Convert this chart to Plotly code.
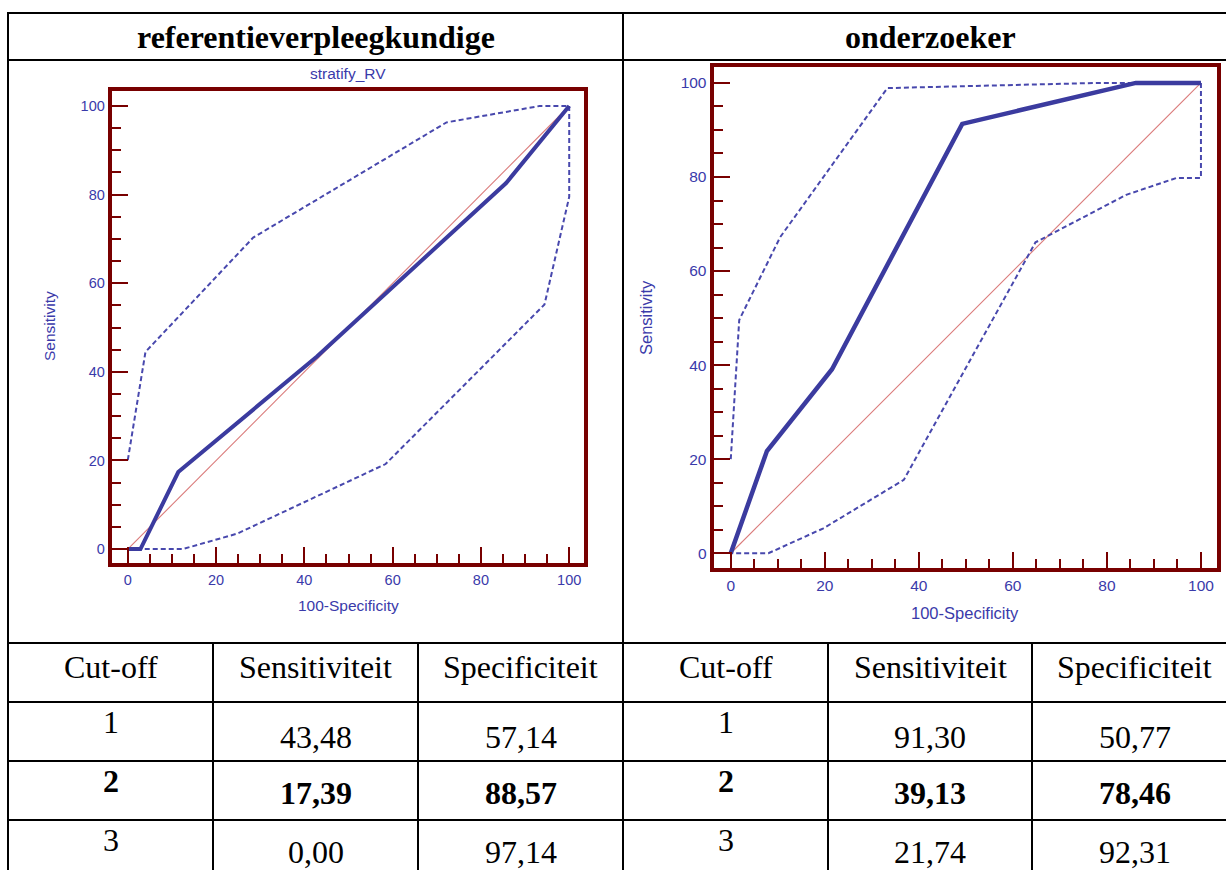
import plotly.graph_objects as go

W, H = 1226, 870

# ---- data -------------------------------------------------------------
cutoffs = ["1", "2", "3"]
rv_sens = [43.48, 17.39, 0.00]
rv_spec = [57.14, 88.57, 97.14]
oz_sens = [91.30, 39.13, 21.74]
oz_spec = [50.77, 78.46, 92.31]

# ROC points beyond the tabulated cut-offs (100-specificity, sensitivity)
rv_extra_fpr = [85.71]
rv_extra_sens = [82.61]
oz_extra_fpr = [86.15]
oz_extra_sens = [100.0]

# 95% confidence bands around the ROC curves
rv_upper_x = [0, 4.0, 28.4, 72.2, 93.3, 100]
rv_upper_y = [20.1, 44.5, 70.3, 96.3, 100, 100]
rv_lower_x = [100, 100, 94.4, 58.4, 24.8, 12.4, 0]
rv_lower_y = [100, 79.5, 55.2, 19.2, 3.5, 0, 0]
oz_upper_x = [0, 1.8, 10.5, 33.3, 78, 100]
oz_upper_y = [20, 49.6, 67.2, 98.9, 100, 100]
oz_lower_x = [100, 100, 94.8, 84.1, 64.8, 36.8, 19.7, 8.0, 0]
oz_lower_y = [100, 79.8, 79.8, 76.2, 66.1, 15.6, 5.3, 0, 0]

panel_titles = ["referentieverpleegkundige", "onderzoeker"]
col_headers = ["Cut-off", "Sensitiviteit", "Specificiteit"]
bold_row = 1

# ---- styling -----------------------------------------------------------
FRAME = "#780000"
BLUE_TXT = "#3a3aaa"
ROC_COL = "#3b3b9f"
BAND_COL = "#4848ad"
DIAG_COL = "#da7a7a"
SANS = "Liberation Sans, Arial, sans-serif"
SERIF = "Liberation Serif, Times New Roman, serif"


def px(x):
    return x / W


def py(y):
    return 1 - y / H


def roc_points(sens, spec, extra_fpr, extra_sens):
    pts = [(0.0, 0.0)]
    pts += [(round(100 - sp, 2), se) for se, sp in zip(sens, spec)]
    pts += list(zip(extra_fpr, extra_sens))
    pts.append((100.0, 100.0))
    pts.sort()
    return [p[0] for p in pts], [p[1] for p in pts]


fig = go.Figure()

panels = [
    dict(sens=rv_sens, spec=rv_spec, efpr=rv_extra_fpr, esens=rv_extra_sens,
         ux=rv_upper_x, uy=rv_upper_y, lx=rv_lower_x, ly=rv_lower_y,
         xa="x", ya="y", rocw=4),
    dict(sens=oz_sens, spec=oz_spec, efpr=oz_extra_fpr, esens=oz_extra_sens,
         ux=oz_upper_x, uy=oz_upper_y, lx=oz_lower_x, ly=oz_lower_y,
         xa="x2", ya="y2", rocw=4.5),
]

for p in panels:
    # reference diagonal
    fig.add_trace(go.Scatter(x=[0, 100], y=[0, 100], mode="lines",
                             line=dict(color=DIAG_COL, width=1.1),
                             xaxis=p["xa"], yaxis=p["ya"], hoverinfo="skip"))
    for bx, by in ((p["ux"], p["uy"]), (p["lx"], p["ly"])):
        fig.add_trace(go.Scatter(x=bx, y=by, mode="lines",
                                 line=dict(color=BAND_COL, width=2, dash="5px,3px"),
                                 xaxis=p["xa"], yaxis=p["ya"]))
    rx, ry = roc_points(p["sens"], p["spec"], p["efpr"], p["esens"])
    fig.add_trace(go.Scatter(x=rx, y=ry, mode="lines",
                             line=dict(color=ROC_COL, width=p["rocw"]),
                             xaxis=p["xa"], yaxis=p["ya"]))


def axis(dom, rng, fs, anchor):
    return dict(domain=dom, range=rng, anchor=anchor, tick0=0, dtick=20,
                ticks="inside", ticklen=16, tickwidth=2, tickcolor=FRAME,
                minor=dict(dtick=5, ticks="inside", ticklen=9, tickwidth=2,
                           tickcolor=FRAME, showgrid=False),
                showline=True, linewidth=4, linecolor=FRAME, mirror=True,
                showgrid=False, zeroline=False, fixedrange=True,
                tickfont=dict(family=SANS, size=fs, color=BLUE_TXT))


XR = [-3.65, 103.35]
YR = [-3.2, 103.45]

fig.update_layout(
    width=W, height=H, autosize=False,
    margin=dict(l=0, r=0, t=0, b=0, pad=0),
    paper_bgcolor="white", plot_bgcolor="white",
    showlegend=False,
    xaxis=axis([px(111.7), px(584)], XR, 14.5, "y"),
    yaxis=axis([py(563.3), py(90.7)], YR, 14.5, "x"),
    xaxis2=axis([px(713.6), px(1216.7)], XR, 15.5, "y2"),
    yaxis2=axis([py(568.3), py(66.7)], YR, 15.5, "x2"),
)

ann = []


def text(x, y, s, size, color="black", family=SERIF, bold=False, angle=0):
    ann.append(dict(x=px(x), y=py(y), xref="paper", yref="paper",
                    text=f"<b>{s}</b>" if bold else s, showarrow=False,
                    xanchor="center", yanchor="middle", textangle=angle,
                    font=dict(family=family, size=size, color=color)))


# chart labels
text(348, 73, "stratify_RV", 15.5, BLUE_TXT, SANS)
text(348, 605, "100-Specificity", 15.5, BLUE_TXT, SANS)
text(49, 326, "Sensitivity", 15.5, BLUE_TXT, SANS, angle=-90)
text(965, 613, "100-Specificity", 16.5, BLUE_TXT, SANS)
text(646, 318, "Sensitivity", 16.5, BLUE_TXT, SANS, angle=-90)

# panel headings
text(315.5, 37, panel_titles[0], 32, bold=True)
text(930, 37, panel_titles[1], 32, bold=True)

# cut-off tables
col_x = [[110.5, 315.5, 520.5], [725.5, 930, 1134.5]]
cut_y = [722, 781, 840]
val_y = [737, 793, 852]


def fmt(v):
    return f"{v:.2f}".replace(".", ",")


for half, (sens, spec) in enumerate(((rv_sens, rv_spec), (oz_sens, oz_spec))):
    cx = col_x[half]
    for c, h in enumerate(col_headers):
        text(cx[c], 667, h, 32)
    for r in range(len(cutoffs)):
        b = r == bold_row
        text(cx[0], cut_y[r], cutoffs[r], 32, bold=b)
        text(cx[1], val_y[r], fmt(sens[r]), 32, bold=b)
        text(cx[2], val_y[r], fmt(spec[r]), 32, bold=b)

# table grid
shapes = []


def hline(y, x0=8, x1=1240):
    shapes.append(dict(type="line", xref="paper", yref="paper",
                       x0=px(x0), x1=px(x1), y0=py(y), y1=py(y),
                       line=dict(color="black", width=2)))


def vline(x, y0, y1=880):
    shapes.append(dict(type="line", xref="paper", yref="paper",
                       x0=px(x), x1=px(x), y0=py(y0), y1=py(y1),
                       line=dict(color="black", width=2)))


for y in (13, 60, 643, 702, 761, 820):
    hline(y)
vline(8, 12)
vline(623, 12)
for x in (213, 418, 828, 1032):
    vline(x, 643)

fig.update_layout(annotations=ann, shapes=shapes)

fig.write_html("out.html", config={"displayModeBar": False})
